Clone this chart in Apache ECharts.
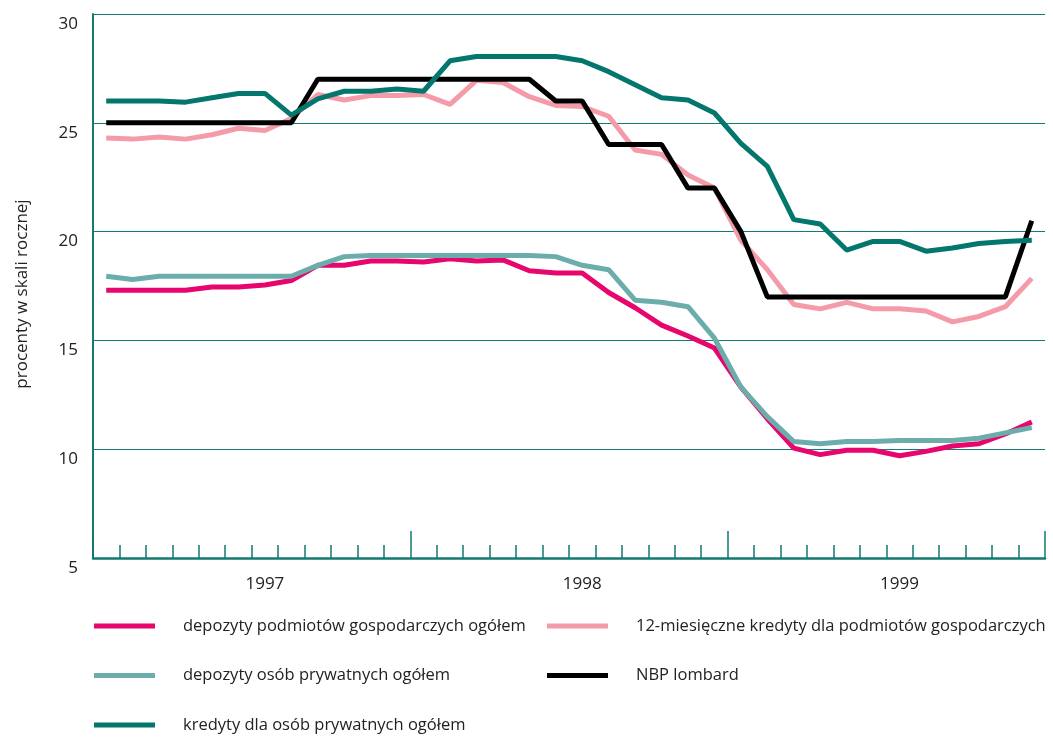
<!DOCTYPE html>
<html>
<head>
<meta charset="utf-8">
<script src="https://cdn.jsdelivr.net/npm/echarts@6/dist/echarts.min.js"></script>
<style>
html,body{margin:0;padding:0;background:#fff;}
#chart{width:1053px;height:738px;}
</style>
</head>
<body>
<div id="chart"></div>
<script>
// 36 monthly observations, 1997-1999
const months = [];
for (let y of [1997, 1998, 1999]) for (let m = 1; m <= 12; m++) months.push(y + '-' + (m < 10 ? '0' + m : m));
const yearLabels = {'1997-07': '1997', '1998-07': '1998', '1999-07': '1999'};

const depozytyPodmiotow = [17.3,17.3,17.3,17.3,17.45,17.45,17.55,17.75,18.45,18.45,18.65,18.65,
  18.6,18.75,18.65,18.7,18.2,18.1,18.1,17.2,16.5,15.7,15.2,14.65,12.85,11.4,10.05,9.75,9.95,9.95,9.7,9.9,10.15,10.25,10.7,11.25];
const kredyty12m = [24.3,24.25,24.35,24.25,24.45,24.75,24.65,25.2,26.3,26.05,26.25,26.25,
  26.3,25.85,26.95,26.85,26.2,25.8,25.75,25.3,23.75,23.55,22.6,22.0,19.6,18.25,16.65,16.45,16.75,16.45,16.45,16.35,15.85,16.1,16.55,17.85];
const depozytyOsob = [17.95,17.8,17.95,17.95,17.95,17.95,17.95,17.95,18.45,18.85,18.9,18.9,
  18.9,18.9,18.9,18.9,18.9,18.85,18.45,18.25,16.85,16.75,16.55,15.1,12.85,11.5,10.35,10.25,10.35,10.35,10.4,10.4,10.4,10.5,10.75,11.0];
const nbpLombard = [25,25,25,25,25,25,25,25,27,27,27,27,
  27,27,27,27,27,26,26,24,24,24,22,22,20,17,17,17,17,17,17,17,17,17,17,20.5];
const kredytyOsob = [26.0,26.0,26.0,25.95,26.15,26.35,26.35,25.35,26.1,26.45,26.45,26.55,
  26.45,27.85,28.05,28.05,28.05,28.05,27.85,27.35,26.75,26.15,26.05,25.45,24.05,23.0,20.55,20.35,19.15,19.55,19.55,19.1,19.25,19.45,19.55,19.6];
const yTicks = {min: 5, max: 30, step: 5};

const FONT = 'Open Sans';
const TEAL = '#137a72';
const names = ['depozyty podmiotów gospodarczych ogółem','12-miesięczne kredyty dla podmiotów gospodarczych',
  'depozyty osób prywatnych ogółem','NBP lombard','kredyty dla osób prywatnych ogółem'];
const colors = ['#e6066d','#f59aa8','#6aadaa','#000000','#03766e'];
const datas = [depozytyPodmiotow,kredyty12m,depozytyOsob,nbpLombard,kredytyOsob];

const chart = echarts.init(document.getElementById('chart'));
const legendText = {fontFamily: FONT, fontSize: 16.5, color: '#222', padding: [0,0,0,23], lineHeight: 20};
chart.setOption({
  animation: false,
  grid: {left: 93, right: 8, top: 14, bottom: 180},
  legend: [
    {data: [names[0], names[2], names[4]], orient: 'vertical', left: 94, top: 616, height: 120, padding: 0, icon: 'rect',
     itemWidth: 61, itemHeight: 5, itemGap: 29.5, textStyle: legendText},
    {data: [names[1], names[3]], orient: 'vertical', left: 547, top: 616, height: 120, padding: 0, icon: 'rect',
     itemWidth: 61, itemHeight: 5, itemGap: 29.5, textStyle: legendText}
  ],
  xAxis: [
    {type: 'category', data: months, boundaryGap: true,
     axisLine: {show: true, lineStyle: {color: TEAL, width: 2.5}},
     axisTick: {show: true, inside: true, length: 13, interval: 0, lineStyle: {color: TEAL, width: 1.5}},
     axisLabel: {interval: 0, margin: 18, fontFamily: FONT, fontSize: 17, color: '#222',
       formatter: v => yearLabels[v] || ''}},
    {type: 'category', data: months, boundaryGap: true, position: 'bottom', offset: 0,
     axisLine: {show: false},
     axisTick: {show: true, inside: true, length: 27, interval: (i) => i % 12 === 0, lineStyle: {color: TEAL, width: 1.5}},
     axisLabel: {show: false}}
  ],
  yAxis: {type: 'value', min: yTicks.min, max: yTicks.max, interval: yTicks.step,
    name: 'procenty w skali rocznej', nameLocation: 'middle', nameGap: 62, nameRotate: 90,
    nameTextStyle: {fontFamily: FONT, fontSize: 17, color: '#222', padding: [0,16,0,0]},
    axisLine: {show: true, lineStyle: {color: TEAL, width: 2}},
    axisTick: {show: false},
    axisLabel: {margin: 15, fontFamily: FONT, fontSize: 17, color: '#222', verticalAlign: 'top', lineHeight: 20},
    splitLine: {lineStyle: {color: TEAL, width: 1.2}}},
  series: names.map((n, i) => ({
    name: n, type: 'line', data: datas[i], showSymbol: false, symbol: 'none',
    lineStyle: {color: colors[i], width: 5}, itemStyle: {color: colors[i]},
    z: [2,3,4,5,6][i]
  }))
});
</script>
</body>
</html>
